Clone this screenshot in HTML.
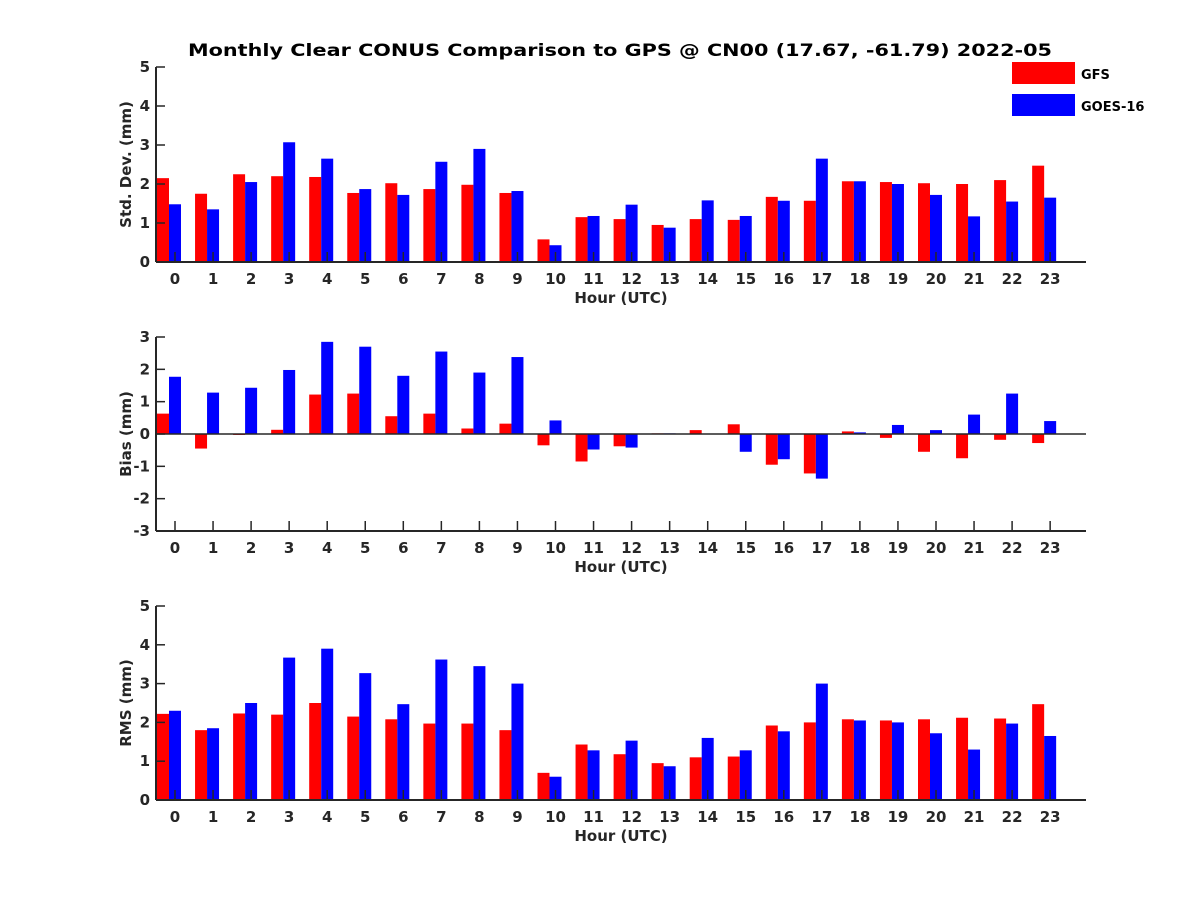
<!DOCTYPE html>
<html><head><meta charset="utf-8"><style>
body{margin:0;background:#fff;}
svg text{font-family:"DejaVu Sans","Liberation Sans",sans-serif;font-weight:bold;fill:#262626;}
</style></head><body>
<svg id="chart" width="1200" height="900" xmlns="http://www.w3.org/2000/svg">
<rect width="1200" height="900" fill="#fff"/>
<text x="620" y="56" font-size="17" text-anchor="middle" textLength="864" lengthAdjust="spacingAndGlyphs" style="fill:#000">Monthly Clear CONUS Comparison to GPS @ CN00 (17.67, -61.79) 2022-05</text>
<g>
<rect x="1012" y="62" width="63" height="22" fill="#ff0000"/>
<text x="1081" y="79" font-size="13" style="fill:#000">GFS</text>
<rect x="1012" y="94" width="63" height="22" fill="#0000ff"/>
<text x="1081" y="111" font-size="13" style="fill:#000">GOES-16</text>
</g>
</svg>
<script>
const hours = [0,1,2,3,4,5,6,7,8,9,10,11,12,13,14,15,16,17,18,19,20,21,22,23];
const stdGFS = [2.15,1.75,2.25,2.2,2.18,1.77,2.02,1.87,1.98,1.77,0.58,1.15,1.1,0.95,1.1,1.08,1.67,1.57,2.07,2.05,2.02,2.0,2.1,2.47];
const stdGOES = [1.48,1.35,2.05,3.07,2.65,1.87,1.72,2.57,2.9,1.82,0.43,1.18,1.47,0.88,1.58,1.18,1.57,2.65,2.07,2.0,1.72,1.17,1.55,1.65];
const biasGFS = [0.63,-0.45,-0.03,0.13,1.22,1.25,0.55,0.63,0.17,0.32,-0.35,-0.85,-0.38,0.02,0.12,0.3,-0.95,-1.22,0.08,-0.12,-0.55,-0.75,-0.18,-0.28];
const biasGOES = [1.77,1.28,1.43,1.98,2.85,2.7,1.8,2.55,1.9,2.38,0.42,-0.48,-0.42,0.02,0,-0.55,-0.78,-1.38,0.05,0.28,0.12,0.6,1.25,0.4];
const rmsGFS = [2.22,1.8,2.23,2.2,2.5,2.15,2.08,1.97,1.97,1.8,0.7,1.43,1.18,0.95,1.1,1.12,1.92,2.0,2.08,2.05,2.08,2.12,2.1,2.47];
const rmsGOES = [2.3,1.85,2.5,3.67,3.9,3.27,2.47,3.62,3.45,3.0,0.6,1.28,1.53,0.87,1.6,1.28,1.77,3.0,2.05,2.0,1.72,1.3,1.97,1.65];
const stdTicks = [0,1,2,3,4,5];
const biasTicks = [-3,-2,-1,0,1,2,3];
const rmsTicks = [0,1,2,3,4,5];

const svg = document.getElementById('chart');
const NS = 'http://www.w3.org/2000/svg';
function mk(tag, attrs, parent){const e=document.createElementNS(NS,tag);for(const k in attrs)e.setAttribute(k,attrs[k]);(parent||svg).appendChild(e);return e;}
const L=156,R=1086,step=38.05;
const xPos = h => 175 + h*step;

function panel(name, top, bottom, ymin, ymax, ticks, a, b, ylabel){
  const g = mk('g',{});
  
  
  const y = v => bottom - (v-ymin)/(ymax-ymin)*(bottom-top);
  const zero = y(Math.max(0,ymin));
  hours.forEach((h,i)=>{
    const c = xPos(h)-6;
    const v1=a[i], v2=b[i];
    const r1 = mk('rect',{x:c-12,y:Math.min(y(v1),zero),width:12,height:Math.abs(y(v1)-zero),fill:'#ff0000'},g);
    
    
    const r2 = mk('rect',{x:c,y:Math.min(y(v2),zero),width:12,height:Math.abs(y(v2)-zero),fill:'#0000ff'},g);
    
    
  });
  const ya = mk('line',{x1:L,y1:top,x2:L,y2:bottom,stroke:'#262626','stroke-width':2},g);
  
  
  const xa = mk('line',{x1:L,y1:bottom,x2:R,y2:bottom,stroke:'#262626','stroke-width':2},g);
  
  
  if(ymin<0){ mk('line',{x1:L,y1:zero,x2:R,y2:zero,stroke:'#262626','stroke-width':1.5},g); }
  ticks.forEach(t=>{
    mk('line',{x1:L,y1:y(t),x2:L+9,y2:y(t),stroke:'#262626','stroke-width':1.5},g);
    const tx = mk('text',{x:L-6,y:y(t)+5,'font-size':15,'text-anchor':'end'},g);
    tx.textContent = t;
    
    
  });
  hours.forEach(h=>{
    mk('line',{x1:xPos(h),y1:bottom,x2:xPos(h),y2:bottom-10,stroke:'#262626','stroke-width':1.5},g);
    const tx = mk('text',{x:xPos(h),y:bottom+22,'font-size':15,'text-anchor':'middle'},g);
    tx.textContent = h;
    
    
  });
  const xl = mk('text',{x:621,y:bottom+41,'font-size':15,'text-anchor':'middle'},g);
  xl.textContent='Hour (UTC)';
  
  
  const cy=(top+bottom)/2;
  const yl = mk('text',{x:131,y:cy,'font-size':15,'text-anchor':'middle',transform:'rotate(-90 131 '+cy+')'},g);
  yl.textContent=ylabel;
  
  
}
panel('std', 67, 262, 0, 5, stdTicks, stdGFS, stdGOES, 'Std. Dev. (mm)');
panel('bias', 337, 531, -3, 3, biasTicks, biasGFS, biasGOES, 'Bias (mm)');
panel('rms', 606, 800, 0, 5, rmsTicks, rmsGFS, rmsGOES, 'RMS (mm)');
</script>
</body></html>
